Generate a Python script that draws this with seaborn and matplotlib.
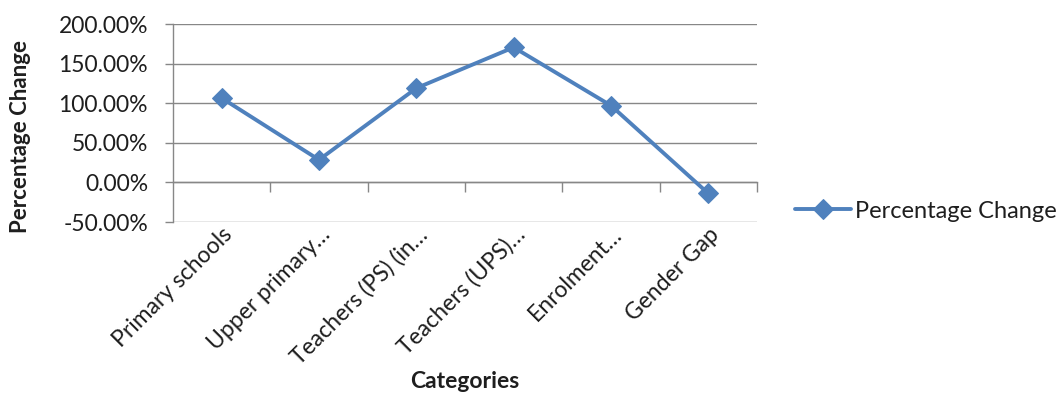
import matplotlib
matplotlib.use("Agg")
import matplotlib.pyplot as plt
import matplotlib.ticker as mticker
import seaborn as sns
import pandas as pd

categories = ["Primary schools", "Upper primary…", "Teachers (PS) (in…",
              "Teachers (UPS)…", "Enrolment…", "Gender Gap"]
values = [106.5, 28.5, 119.0, 170.5, 97.0, -14.0]
series_name = "Percentage Change"

sns.set_theme(style="white")
plt.rcParams["font.family"] = ["Lato", "DejaVu Sans"]
plt.rcParams["axes.unicode_minus"] = False

df = pd.DataFrame({"Category": categories, series_name: values})

fig = plt.figure(figsize=(10.63, 3.93), dpi=100)
ax = fig.add_axes([173 / 1063, 1 - 222 / 393, (757 - 173) / 1063, (222 - 24) / 393])

blue = "#4F81BD"
grid = "#878787"
text = "#1e1e1e"

sns.lineplot(data=df, x="Category", y=series_name, sort=False, ax=ax,
             color=blue, linewidth=2.8, marker="D", markersize=10,
             markeredgecolor=blue, label=series_name)

ax.set_xlim(-0.5, len(categories) - 0.5)
ax.set_ylim(-50, 200)
ax.set_yticks([-50, 0, 50, 100, 150, 200])
ax.yaxis.set_major_formatter(mticker.PercentFormatter(decimals=2))
ax.grid(axis="y", color=grid, linewidth=1)
ax.set_axisbelow(True)

for side in ("top", "right", "bottom"):
    ax.spines[side].set_visible(False)
ax.spines["left"].set_color(grid)
ax.spines["left"].set_linewidth(1)

ax.tick_params(axis="y", which="major", left=True, length=6, width=1,
               color=grid, pad=12, labelsize=16.5, labelcolor=text)
ax.tick_params(axis="x", which="major", bottom=False, length=0, pad=1,
               labelsize=16.5, labelcolor=text)
for lbl in ax.get_xticklabels():
    lbl.set_rotation(45)
    lbl.set_ha("right")
    lbl.set_rotation_mode("anchor")

# category axis crossing at zero with boundary tick marks
sec = ax.secondary_xaxis(0.2)
sec.set_xticks([i + 0.5 for i in range(len(categories))])
sec.set_xticklabels([])
sec.tick_params(axis="x", length=7, width=1, color=grid, direction="out")
sec.spines["bottom"].set_color(grid)
sec.spines["bottom"].set_linewidth(1)

ax.set_xlabel("Categories", fontsize=16.5, fontweight="bold", color=text)
ax.xaxis.set_label_coords(0.5, -0.755)
ax.set_ylabel("Percentage Change", fontsize=16, fontweight="bold", color=text)
ax.yaxis.set_label_coords(-0.243, 0.434)

ax.legend(loc="center left", bbox_to_anchor=(1.029, 0.055), frameon=False,
          fontsize=17, handlelength=2.35, handletextpad=0.2, labelcolor=text)

fig.savefig("out.png", dpi=100)
